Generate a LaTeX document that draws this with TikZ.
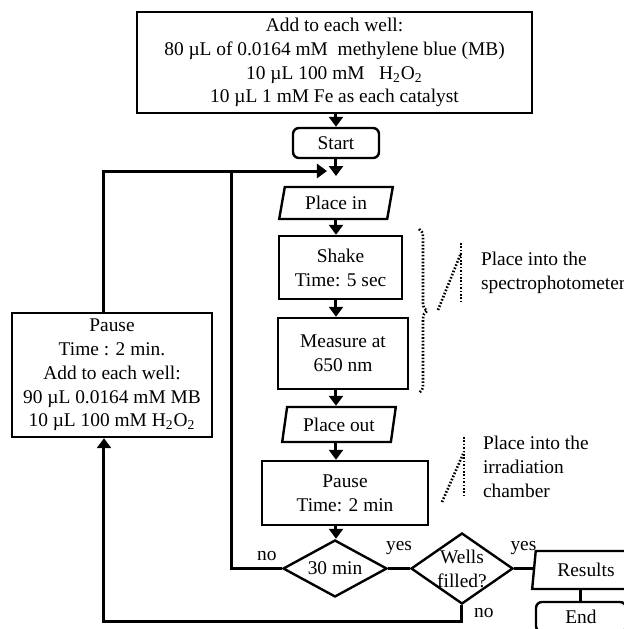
\documentclass[tikz,border=0pt]{standalone}
\usepackage{fontspec}
\setmainfont{Liberation Serif}
\usetikzlibrary{arrows.meta,shapes.geometric,decorations.pathreplacing}

\begin{document}
\begin{tikzpicture}[x=0.5pt,y=-0.5pt,
	font=\fontsize{9.7}{11.9}\selectfont,
	>={Triangle[width=7pt,length=5pt]},
	box/.style={draw,line width=1.2pt,align=center,inner sep=0pt},
	io/.style={box,trapezium,trapezium left angle=76,trapezium right angle=104,trapezium stretches=true},
	term/.style={box,rounded corners=3pt},
	test/.style={box,diamond},
	flow/.style={line width=1.5pt},
	note/.style={line width=1.3pt,dash pattern=on 0.8pt off 0.9pt}]
	\useasboundingbox (0,0) rectangle (624,629);
	% nodes
	\node[box,minimum width=197.5pt,minimum height=50.5pt] (T) at (334.5,62.5) {Add to each well:\\80 µL of 0.0164 mM\ \ methylene blue (MB)\\10 µL 100 mM\ \ \ H\textsubscript{2}O\textsubscript{2}\\10 µL 1 mM Fe as each catalyst};
	\node[term,minimum width=43pt,minimum height=15pt] (S) at (336,143) {Start};
	\node[io,minimum width=57pt,minimum height=16pt] (Pi) at (336,203) {Place in};
	\node[box,minimum width=61.5pt,minimum height=31.5pt] (Sh) at (340.5,267.5) {Shake\\Time: 5 sec};
	\node[box,minimum width=65pt,minimum height=35.5pt] (M) at (343,353.5) {Measure at\\650 nm};
	\node[io,minimum width=57pt,minimum height=17.5pt] (Po) at (339,424.5) {Place out};
	\node[box,minimum width=83pt,minimum height=32pt] (Pa) at (345,493) {Pause\\Time: 2 min};
	\node[test,minimum width=52pt,minimum height=28.5pt,label=center:30 min] (D1) at (335,568.5) {};
	\node[test,minimum width=51pt,minimum height=35.5pt,label={[align=center]center:Wells\\filled?}] (D2) at (462,568.5) {};
	\node[io,minimum width=54pt,minimum height=19pt,text width=48pt] (R) at (586,570) {Results};
	\node[term,minimum width=45pt,minimum height=15pt] (E) at (581,617) {End};
	\node[box,minimum width=100pt,minimum height=62pt] (P2) at (112,375) {Pause\\Time : 2 min.\\Add to each well:\\90 µL 0.0164 mM MB\\10 µL 100 mM H\textsubscript{2}O\textsubscript{2}};
	% joints
	\coordinate (col) at (336,0);
	\coordinate (Jd) at (336,176);
	\coordinate (Jr) at (327,171);
	\coordinate (K) at (232,171);
	%
	% main column
	\draw[flow,->] (T.south -| S) -- (S.north);
	\draw[flow,->] (S.south) -- (Jd);
	\draw[flow,->] (Pi.south -| col) -- (Sh.north -| col);
	\draw[flow,->] (Sh.south -| col) -- (M.north -| col);
	\draw[flow,->] (M.south -| col) -- (Po.north -| col);
	\draw[flow,->] (Po.south -| col) -- (Pa.north -| col);
	\draw[flow,->] (Pa.south -| col) -- (D1.north -| col);
	% decisions
	\draw[flow] (D1) -- node[above=3pt]{yes} (D2);
	\draw[flow] (D2.east) -- node[above=3pt]{yes} (D2.east -| R.west);
	\draw[flow] (R.south -| E) -- (E.north);
	\draw[flow] (D1.west) -- node[above,pos=0.3]{no} (K |- D1.west) -- (K);
	\draw[flow,->] (D2.south) -- node[right=2pt]{no} ++(0,16) -| ([xshift=-4pt]P2.south);
	\draw[flow,->] ([xshift=-4pt]P2.north) |- (Jr);
	% notes
	\draw[note,decorate,decoration={brace,amplitude=4pt}] (419,229) -- (419,393);
	\draw[note] (438,310) -- (461,253);
	\draw[note] (461,243) -- (461,303);
	\node[align=left,anchor=west] (N1) at (474,273) {Place into the\\spectrophotometer};
	\draw[note] (442,502) -- (464,452);
	\draw[note] (464,437) -- (464,497);
	\node[align=left,anchor=west] (N2) at (476,467) {Place into the\\irradiation\\chamber};
\end{tikzpicture}
\end{document}
